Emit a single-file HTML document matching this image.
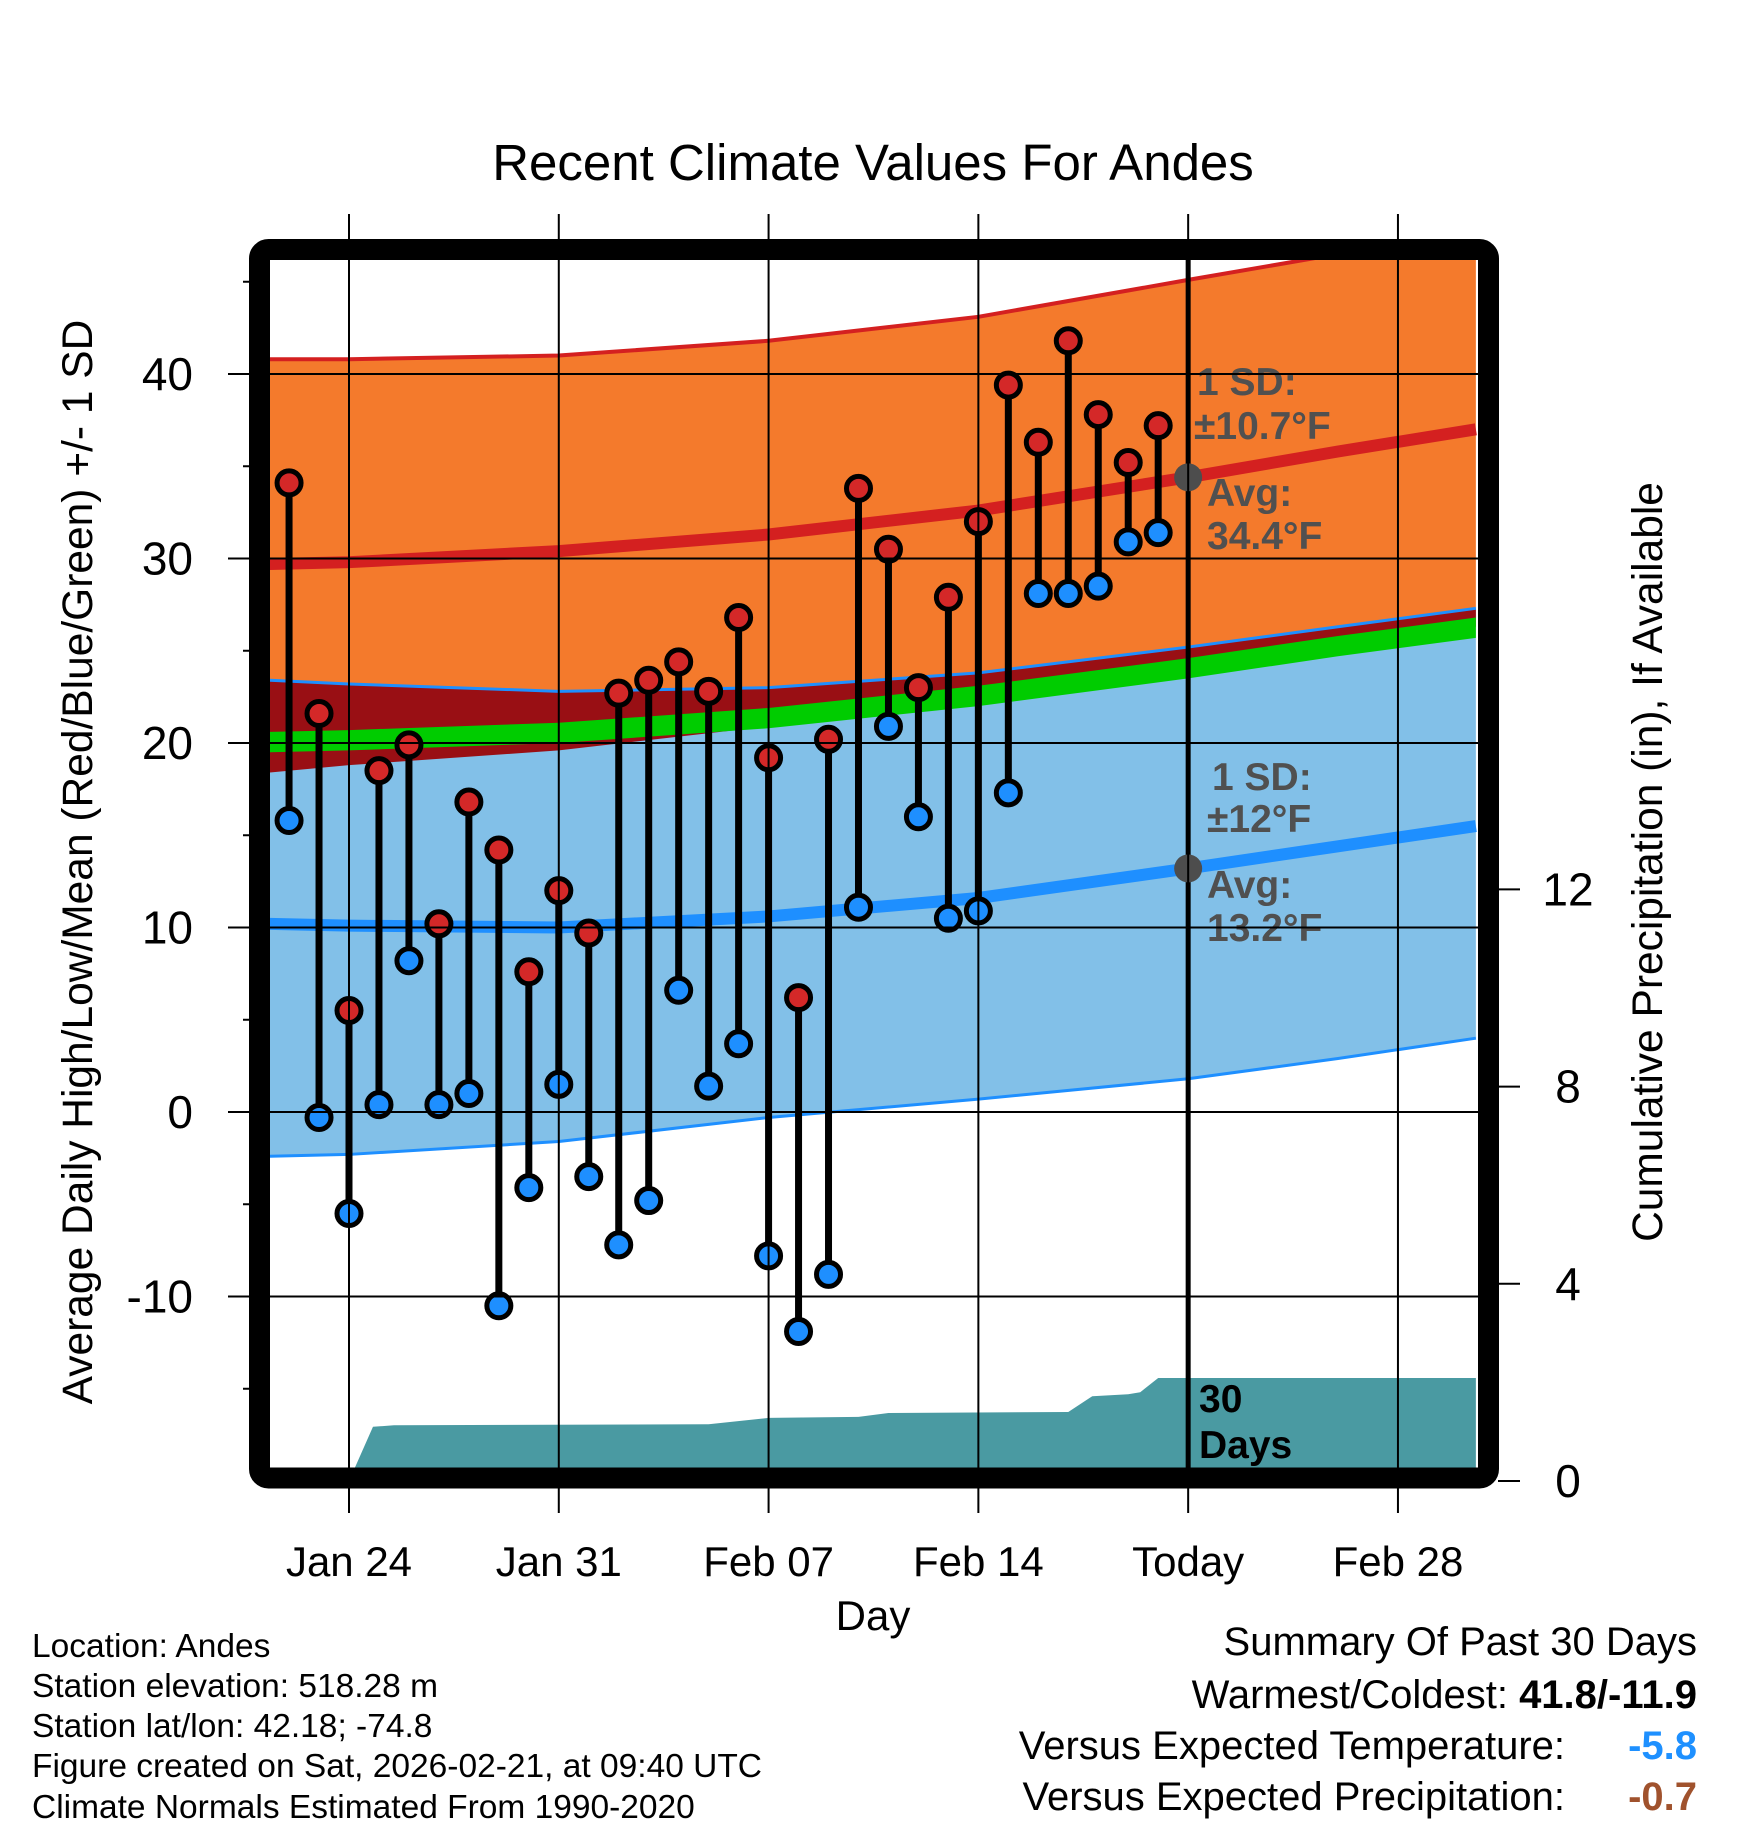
<!DOCTYPE html>
<html><head><meta charset="utf-8"><style>
body{margin:0;background:#fff}
svg text{font-family:"Liberation Sans",sans-serif}
</style></head><body>
<svg id="chart" width="1748" height="1828" viewBox="0 0 1748 1828" xmlns="http://www.w3.org/2000/svg">
<defs><clipPath id="plotclip"><rect x="270" y="260" width="1210" height="1208"/></clipPath></defs>
<rect width="1748" height="1828" fill="#fff"/>
<text x="873" y="180" font-size="51" text-anchor="middle">Recent Climate Values For Andes</text>
<g id="plot" clip-path="url(#plotclip)"></g>
<g id="overlay"></g>
<rect x="259.5" y="249.5" width="1229" height="1228.5" rx="9" fill="none" stroke="#000" stroke-width="21"/>
<g id="axes"></g>
<text x="873" y="1630" font-size="42" text-anchor="middle">Day</text>
<text transform="translate(92,862) rotate(-90)" font-size="42.5" text-anchor="middle">Average Daily High/Low/Mean (Red/Blue/Green) +/- 1 SD</text>
<text transform="translate(1662,862) rotate(-90)" font-size="42.5" text-anchor="middle">Cumulative Precipitation (in), If Available</text>
<g font-size="33.5">
<text x="32" y="1657">Location: Andes</text>
<text x="32" y="1697">Station elevation: 518.28 m</text>
<text x="32" y="1737">Station lat/lon: 42.18; -74.8</text>
<text x="32" y="1777">Figure created on Sat, 2026-02-21, at 09:40 UTC</text>
<text x="32" y="1818">Climate Normals Estimated From 1990-2020</text>
</g>
<g font-size="40" text-anchor="end">
<text x="1697" y="1655">Summary Of Past 30 Days</text>
<text x="1697" y="1708">Warmest/Coldest: <tspan font-weight="bold">41.8/-11.9</tspan></text>
<text x="1565" y="1759">Versus Expected Temperature:</text>
<text x="1697" y="1759" font-weight="bold" fill="#1e90ff">-5.8</text>
<text x="1565" y="1810">Versus Expected Precipitation:</text>
<text x="1697" y="1810" font-weight="bold" fill="#a0522d">-0.7</text>
</g>
</svg>
<script>
// ---- data ----
const normDays = [-2.65, 0, 7, 14, 21, 28, 33, 37.6];
const highUpper = [40.8, 40.8, 41.0, 41.8, 43.1, 45.1, 46.5, 47.6];
const highMean = [29.7, 29.8, 30.4, 31.3, 32.6, 34.4, 35.8, 37.0];
const highLower = [18.4, 18.8, 19.6, 20.9, 22.2, 24.0, 25.3, 26.3];
const lowUpper = [23.4, 23.2, 22.8, 23.0, 23.8, 25.2, 26.3, 27.3];
const lowMean = [10.2, 10.1, 10.0, 10.6, 11.6, 13.2, 14.4, 15.5];
const lowLower = [-2.4, -2.3, -1.6, -0.3, 0.7, 1.8, 2.9, 4.0];
const meanTemp = [20.0, 20.1, 20.5, 21.3, 22.5, 24.0, 25.2, 26.2];
const obsDays = [-2,-1,0,1,2,3,4,5,6,7,8,9,10,11,12,13,14,15,16,17,18,19,20,21,22,23,24,25,26,27];
const obsHigh = [34.1,21.6,5.5,18.5,19.9,10.2,16.8,14.2,7.6,12.0,9.7,22.7,23.4,24.4,22.8,26.8,19.2,6.2,20.2,33.8,30.5,23.0,27.9,32.0,39.4,36.3,41.8,37.8,35.2,37.2];
const obsLow = [15.8,-0.3,-5.5,0.4,8.2,0.4,1.0,-10.5,-4.1,1.5,-3.5,-7.2,-4.8,6.6,1.4,3.7,-7.8,-11.9,-8.8,11.1,20.9,16.0,10.5,10.9,17.3,28.1,28.1,28.5,30.9,31.4];
const precipDays = [-2.65,0,0.8,1.5,12,14,17,18,24,24.8,26,26.4,27,37.6];
const precipVals = [0,0,1.1,1.13,1.15,1.28,1.30,1.38,1.40,1.72,1.76,1.8,2.09,2.09];
const xTickDays = [0,7,14,21,28,35];
const xTickLabels = ["Jan 24","Jan 31","Feb 07","Feb 14","Today","Feb 28"];
const yTicks = [-10,0,10,20,30,40];
const y2Ticks = [0,4,8,12];
const todayDay = 28;
const todayHigh = 34.4, todayLow = 13.2;

// ---- scales ----
const X = d => 349 + d*29.97;
const Y = t => 1112 - t*18.45;
const YP = p => 1481 - p*49.3;
const NS = "http://www.w3.org/2000/svg";
const plot = document.getElementById('plot');
const axes = document.getElementById('axes');
const overlay = document.getElementById('overlay');
function mk(tag, attrs, parent){const e=document.createElementNS(NS,tag);for(const k in attrs)e.setAttribute(k,attrs[k]);parent.appendChild(e);return e;}
function band(up, lo){let s='';normDays.forEach((d,i)=>{s+=(i?'L':'M')+X(d)+','+Y(up[i]);});for(let i=normDays.length-1;i>=0;i--)s+='L'+X(normDays[i])+','+Y(lo[i]);return s+'Z';}
function line(v){return normDays.map((d,i)=>(i?'L':'M')+X(d)+','+Y(v[i])).join('');}

let e;
e=mk('path',{d:band(highUpper,highLower),fill:'#f47a2c'},plot);


e=mk('path',{d:line(highUpper),fill:'none',stroke:'#d42020','stroke-width':4},plot);


e=mk('path',{d:band(lowUpper,lowLower),fill:'#82c0e8'},plot);


e=mk('path',{d:band(lowUpper,highLower),fill:'#990f14'},plot);


e=mk('path',{d:line(lowUpper),fill:'none',stroke:'#1e8fff','stroke-width':3},plot);


e=mk('path',{d:line(lowLower),fill:'none',stroke:'#1e8fff','stroke-width':3},plot);


e=mk('path',{d:band(meanTemp.map(v=>v+0.6),meanTemp.map(v=>v-0.5)),fill:'#00cc00'},plot);


e=mk('path',{d:line(highMean),fill:'none',stroke:'#d42020','stroke-width':12},plot);


e=mk('path',{d:line(lowMean),fill:'none',stroke:'#1e8fff','stroke-width':12},plot);


// precip
let ps='M'+X(precipDays[0])+','+YP(0);
precipDays.forEach((d,i)=>{ps+='L'+X(d)+','+YP(precipVals[i]);});
ps+='L'+X(precipDays[precipDays.length-1])+','+YP(0)+'Z';
e=mk('path',{d:ps,fill:'#4a9aa2'},plot);


// gridlines
xTickDays.forEach(d=>{
  const g=mk('line',{x1:X(d),x2:X(d),y1:214,y2:1513,stroke:'#000','stroke-width':2},axes);
  
  
});
yTicks.forEach(t=>{
  const g=mk('line',{x1:228,x2:1478,y1:Y(t),y2:Y(t),stroke:'#000','stroke-width':2},axes);
  
  
  const tx=mk('text',{x:193,y:Y(t)+16,'font-size':46,'text-anchor':'end'},axes);
  tx.textContent=t;
  
  
});
for(let t=-15;t<=45;t+=10){
  const m=mk('line',{x1:243,x2:249,y1:Y(t),y2:Y(t),stroke:'#000','stroke-width':2},axes);
  
  
}
y2Ticks.forEach(p=>{
  const m=mk('line',{x1:1498,x2:1520,y1:YP(p),y2:YP(p),stroke:'#000','stroke-width':2},axes);
  
  
  const tx=mk('text',{x:1568,y:YP(p)+16,'font-size':46,'text-anchor':'middle'},axes);
  tx.textContent=p;
  
  
});
xTickDays.forEach((d,i)=>{
  const tx=mk('text',{x:X(d),y:1576,'font-size':42,'text-anchor':'middle'},axes);
  tx.textContent=xTickLabels[i];
  
  
});
// today line
e=mk('line',{x1:X(todayDay),x2:X(todayDay),y1:260,y2:1468,stroke:'#000','stroke-width':5},overlay);


// observations
obsDays.forEach((d,i)=>{
  const s=mk('line',{x1:X(d),x2:X(d),y1:Y(obsHigh[i]),y2:Y(obsLow[i]),stroke:'#000','stroke-width':7},overlay);
  
  
});
obsDays.forEach((d,i)=>{
  const h=mk('circle',{cx:X(d),cy:Y(obsHigh[i]),r:12,fill:'#d42828',stroke:'#000','stroke-width':5},overlay);
  
  
  const l=mk('circle',{cx:X(d),cy:Y(obsLow[i]),r:12,fill:'#1e8fff',stroke:'#000','stroke-width':5},overlay);
  
  
});
// today dots
e=mk('circle',{cx:X(todayDay),cy:Y(todayHigh),r:14,fill:'#4d4d4d'},overlay);


e=mk('circle',{cx:X(todayDay),cy:Y(todayLow),r:14,fill:'#4d4d4d'},overlay);


// annotations
function ann(x,y,txt,name,col,sz){const t=mk('text',{x:x,y:y,'font-size':sz||39,'font-weight':'bold',fill:col||'#505050'},overlay);t.textContent=txt;return t;}
ann(1197,395,'1 SD:','high-sd-label');
ann(1194,439,'±10.7°F','high-sd-value');
ann(1207,506,'Avg:','high-avg-label');
ann(1207,549,'34.4°F','high-avg-value');
ann(1212,790,'1 SD:','low-sd-label');
ann(1207,832,'±12°F','low-sd-value');
ann(1207,898,'Avg:','low-avg-label');
ann(1207,941,'13.2°F','low-avg-value');
ann(1199,1412,'30','precip-days-label','#000');
ann(1199,1458,'Days','precip-days-label-2','#000');
</script>
</body></html>
